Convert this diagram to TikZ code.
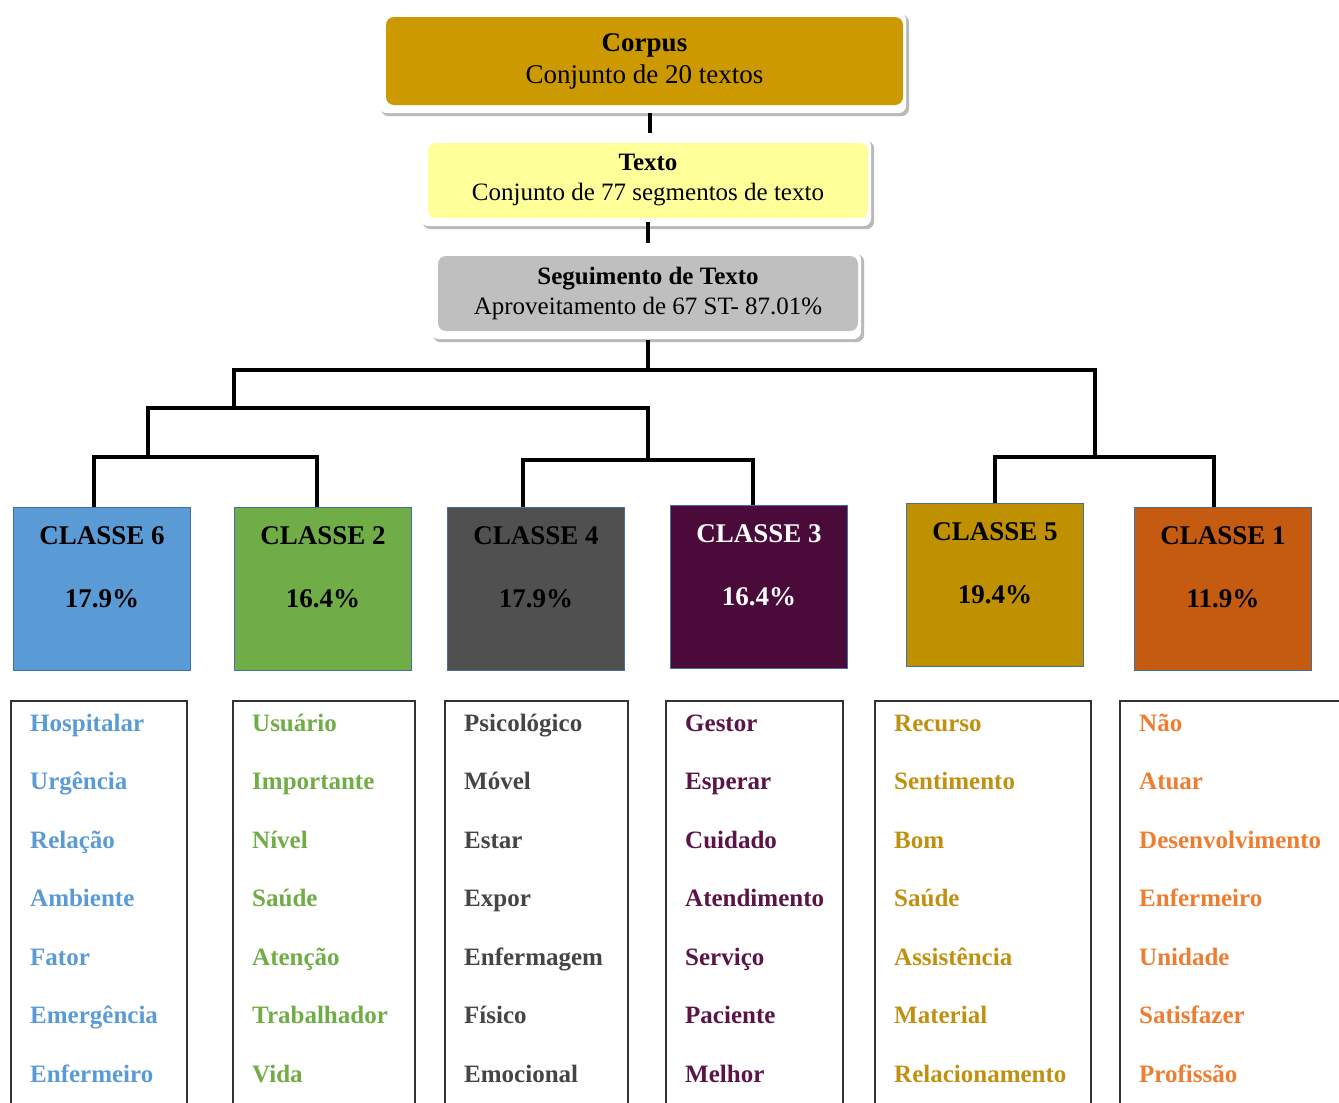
\documentclass[tikz,border=0pt]{standalone}
\usepackage{fontspec}
\setmainfont{Liberation Serif}
\usetikzlibrary{backgrounds}
\definecolor{corpusfill}{HTML}{CC9900}
\definecolor{textofill}{HTML}{FFFF99}
\definecolor{segfill}{HTML}{BFBFBF}
\definecolor{fill6}{HTML}{5B9BD5}
\definecolor{fill2}{HTML}{70AD47}
\definecolor{fill4}{HTML}{505050}
\definecolor{fill3}{HTML}{4A0A3A}
\definecolor{fill5}{HTML}{BF9000}
\definecolor{fill1}{HTML}{C55A11}
\definecolor{word6}{HTML}{5B9BD5}
\definecolor{word2}{HTML}{70AD47}
\definecolor{word4}{HTML}{454545}
\definecolor{word3}{HTML}{5A1448}
\definecolor{word5}{HTML}{C09010}
\definecolor{word1}{HTML}{ED7D31}
\definecolor{clsborder}{HTML}{41719C}
\begin{document}
\begin{tikzpicture}[x=1pt,y=-1pt,
	topbox/.style={rounded corners=8pt, align=center, inner sep=0pt},
	link/.style={line width=4pt},
	cls/.style={draw=clsborder, line width=1.2pt, anchor=north west, minimum width=177pt, minimum height=163pt},
	clstext/.style={anchor=base, inner sep=0pt, font=\fontsize{27}{32}\selectfont\bfseries},
	wbox/.style={draw=black!80, line width=1.5pt, anchor=north west},
	word/.style={anchor=base west, inner sep=0pt, font=\fontsize{25}{30}\selectfont\bfseries}]
	\clip (0,0) rectangle (1339,1103);
	% top of the tree
	\node[topbox, fill=corpusfill, minimum width=517pt, minimum height=88pt, font=\fontsize{27}{32}\selectfont] (corpus) at (644.5,61) {\textbf{Corpus}\\Conjunto de 20 textos};
	\node[topbox, fill=textofill, minimum width=440pt, minimum height=75pt, font=\fontsize{25}{30}\selectfont] (texto) at (648,180.5) {\textbf{Texto}\\Conjunto de 77 segmentos de texto};
	\node[topbox, fill=segfill, minimum width=420pt, minimum height=75pt, font=\fontsize{25}{30}\selectfont] (seg) at (648,293.5) {\textbf{Seguimento de Texto}\\Aproveitamento de 67 ST- 87.01\%};
	\begin{scope}[on background layer]
		\foreach \b in {corpus,texto,seg}{
			\fill[gray!55, rounded corners=8pt] ([xshift=-5pt,yshift=2pt]\b.north west) rectangle ([xshift=6pt,yshift=-11pt]\b.south east);
			\fill[white, rounded corners=8pt] ([xshift=-7pt,yshift=4pt]\b.north west) rectangle ([xshift=3pt,yshift=-8pt]\b.south east);
		}
	\end{scope}
	\coordinate (root) at (648,370);
	\coordinate (left1) at (234,408);
	\coordinate (right1) at (1095,457);
	\coordinate (l2) at (148,457);
	\coordinate (m2) at (648,460);
	% classes
	\foreach \n/\x/\y/\pct/\tc in {6/13/507/17.9/black, 2/234/507/16.4/black, 4/447/507/17.9/black, 3/670/505/16.4/white, 5/906/503/19.4/black, 1/1134/507/11.9/black}{
		\node[cls, fill=fill\n] (c\n) at (\x,\y) {};
		\node[clstext, text=\tc] (c\n-name) at ([yshift=-37pt]c\n.north) {CLASSE \n};
		\node[clstext, text=\tc] (c\n-pct) at ([yshift=-100pt]c\n.north) {\pct\%};
	}
	\draw[link] ([xshift=5.5pt,yshift=-8pt]corpus.south) -- ([xshift=2pt,yshift=10pt]texto.north);
	\draw[link] ([yshift=-4pt]texto.south) -- ([yshift=13pt]seg.north);
	\draw[link] ([yshift=-9pt]seg.south) -- (root);
	\draw[link] (left1) |- (root) -| (right1);
	\draw[link] (l2) |- (left1) -| (m2);
	\draw[link] ([xshift=-8pt]c6.north) |- (l2) -| ([xshift=-6pt]c2.north);
	\draw[link] ([xshift=-13pt]c4.north) |- (m2) -| ([xshift=-6pt]c3.north);
	\draw[link] (c5.north) |- (right1) -| ([xshift=-9pt]c1.north);
	% word lists
	\foreach \n/\bx/\bw/\words in {
		6/10/176/{Hospitalar,Urgência,Relação,Ambiente,Fator,Emergência,Enfermeiro},
		2/232/182/{Usuário,Importante,Nível,Saúde,Atenção,Trabalhador,Vida},
		4/444/183/{Psicológico,Móvel,Estar,Expor,Enfermagem,Físico,Emocional},
		3/665/177/{Gestor,Esperar,Cuidado,Atendimento,Serviço,Paciente,Melhor},
		5/874/216/{Recurso,Sentimento,Bom,Saúde,Assistência,Material,Relacionamento},
		1/1119/240/{Não,Atuar,Desenvolvimento,Enfermeiro,Unidade,Satisfazer,Profissão}}{
		\node[wbox, minimum width=\bw, minimum height=430pt] (w\n) at (\bx,700) {};
		\foreach \w [count=\i] in \words
			\node[word, text=word\n] (w\n-\i) at ({\bx+20},{731+58.5*(\i-1)}) {\w};
	}
\end{tikzpicture}
\end{document}
